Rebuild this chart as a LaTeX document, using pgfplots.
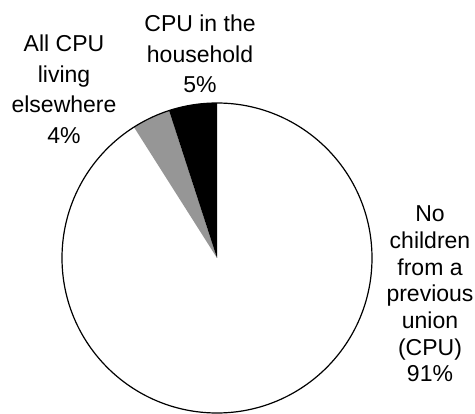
\documentclass[border=0pt]{standalone}
\usepackage{fontspec}
\setmainfont{Liberation Sans}
\usepackage{pgfplots}
\pgfplotsset{compat=1.18}
\definecolor{slicegray}{RGB}{150,150,150}
\begin{document}
\begin{tikzpicture}
% shares in percent, clockwise from 12 o'clock
\def\pNone{91}
\def\pElse{4}
\def\pHouse{5}
\pgfmathsetmacro\aA{90-3.6*\pNone}
\pgfmathsetmacro\aB{\aA-3.6*\pElse}
\pgfmathsetmacro\aC{\aB-3.6*\pHouse}
\begin{axis}[
    width=475bp, height=414bp, scale only axis,
    xmin=0, xmax=475, ymin=0, ymax=414,
    hide axis, clip=false,
  ]
  \path (axis cs:0,0) rectangle (axis cs:475,414);
  \fill[white] (axis cs:217,156) -- ++(90:155bp)
    arc[start angle=90, end angle=\aA, radius=155bp] -- cycle;
  \fill[slicegray] (axis cs:217,156) -- ++(\aA:155bp)
    arc[start angle=\aA, end angle=\aB, radius=155bp] -- cycle;
  \fill[black] (axis cs:217,156) -- ++(\aB:155bp)
    arc[start angle=\aB, end angle=\aC, radius=155bp] -- cycle;
  \draw[line width=1.2bp] (axis cs:217,156) circle[radius=155bp];

  \node[align=center, inner sep=0, font=\fontsize{23bp}{30.5bp}\selectfont]
    at (axis cs:200,360) {CPU in the\\household\\5\%};
  \node[align=center, inner sep=0, font=\fontsize{23bp}{30.5bp}\selectfont]
    at (axis cs:64,325) {All CPU\\living\\elsewhere\\4\%};
  \node[align=center, inner sep=0, font=\fontsize{23bp}{26.7bp}\selectfont]
    at (axis cs:430,120) {No\\children\\from a\\previous\\union\\(CPU)\\91\%};
\end{axis}
\end{tikzpicture}
\end{document}
